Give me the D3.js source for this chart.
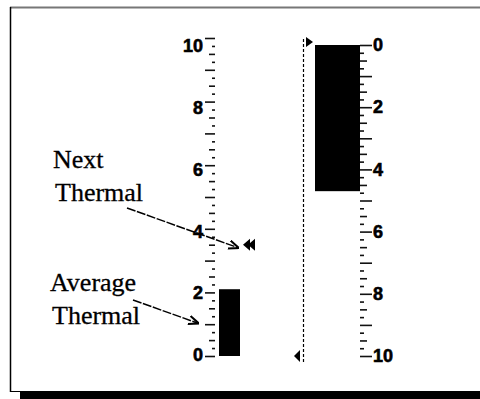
<!DOCTYPE html>
<html>
<head>
<meta charset="utf-8">
<script src="https://cdn.jsdelivr.net/npm/d3@7"></script>
<style>
  body { margin: 0; background: #fff; }
  svg { display: block; }
  .tick line { stroke: #111; stroke-width: 1.6; }
  .lab text { font-family: "Liberation Sans", Arial, sans-serif; font-weight: bold; font-size: 18px; fill: #000; stroke: #000; stroke-width: 0.6; }
  .note { font-family: "Liberation Serif", "Times New Roman", serif; font-size: 26px; fill: #000; stroke: #000; stroke-width: 0.3; }
</style>
</head>
<body>
<div id="chart"></div>
<script>
// values
var leftLabels = [0, 2, 4, 6, 8, 10];
var rightLabels = [0, 2, 4, 6, 8, 10];
var averageBar = [0, 2.1];       // left gauge bar (from, to)
var nextThermal = [3.5];         // double marker on left gauge
var averagePointer = [1.0];      // where "Average Thermal" points
var rightBar = [0, 4.7];         // right gauge bar (from, to)
var rightMarkers = [0, 10];      // triangles next to the dotted line
var notes = [
  { lines: ["Next", "Thermal"] },
  { lines: ["Average", "Thermal"] }
];

var w = 480, h = 399;

var svg = d3.select("#chart").append("svg")
  .attr("width", w)
  .attr("height", h);

// frame with shadow
svg.append("rect").attr("x", 20).attr("y", 392).attr("width", 460).attr("height", 7).attr("fill", "#000");
svg.append("line").attr("x1", 10).attr("x2", 480).attr("y1", 7.5).attr("y2", 7.5).attr("stroke", "#777").attr("stroke-width", 2);
svg.append("line").attr("x1", 10.5).attr("x2", 10.5).attr("y1", 7).attr("y2", 392).attr("stroke", "#000").attr("stroke-width", 1.5);
svg.append("line").attr("x1", 10).attr("x2", 480).attr("y1", 391.5).attr("y2", 391.5).attr("stroke", "#000").attr("stroke-width", 1);

// scales
var yL = d3.scaleLinear().domain([0, 10]).range([356, 38]);
var yLlab = d3.scaleLinear().domain([0, 10]).range([355, 46]);
var yR = d3.scaleLinear().domain([0, 10]).range([45, 356]);

var axL = 215, axR = 360;

var whole = d3.range(0, 10.001, 1);
var halves = d3.range(0.5, 10, 1);
var quarters = d3.range(0.25, 10, 0.5);

function tickSet(axisFn, scale, x, values, size) {
  svg.append("g")
    .attr("transform", "translate(" + x + ",0)")
    .call(axisFn(scale).tickValues(values).tickSize(size).tickFormat(""))
    .call(function(g){ g.select(".domain").remove(); });
}

// left gauge ticks
tickSet(d3.axisLeft, yL, axL, whole, 10);
tickSet(d3.axisLeft, yL, axL, halves, 6);
tickSet(d3.axisLeft, yL, axL, quarters, 3);

svg.append("g")
  .attr("class", "lab")
  .attr("transform", "translate(" + axL + ",0)")
  .call(d3.axisLeft(yLlab).tickValues(leftLabels).tickSize(0).tickPadding(12))
  .call(function(g){ g.select(".domain").remove(); g.selectAll("line").remove(); });

// right gauge ticks
tickSet(d3.axisRight, yR, axR, whole, 12);
tickSet(d3.axisRight, yR, axR, halves, 7);
tickSet(d3.axisRight, yR, axR, quarters, 4);

svg.append("g")
  .attr("class", "lab")
  .attr("transform", "translate(" + axR + ",0)")
  .call(d3.axisRight(yR).tickValues(rightLabels).tickSize(0).tickPadding(13))
  .call(function(g){ g.select(".domain").remove(); g.selectAll("line").remove(); });

// bars
svg.append("rect")
  .attr("x", 219).attr("width", 21)
  .attr("y", yL(averageBar[1]))
  .attr("height", yL(averageBar[0]) - yL(averageBar[1]))
  .attr("fill", "#000");

svg.append("rect")
  .attr("x", 315).attr("width", 45)
  .attr("y", yR(rightBar[0]))
  .attr("height", yR(rightBar[1]) - yR(rightBar[0]))
  .attr("fill", "#000");

// dotted line and markers on right gauge
svg.append("line")
  .attr("x1", 303.5).attr("x2", 303.5)
  .attr("y1", yR(0) - 6).attr("y2", yR(10) + 6)
  .attr("stroke", "#000").attr("stroke-width", 1.2)
  .attr("stroke-dasharray", "3,2");

svg.selectAll(".rmark")
  .data(rightMarkers)
  .enter().append("path")
  .attr("fill", "#000")
  .attr("d", function(d, i){
    var y = yR(d);
    if (i === 0) return "M306," + (y - 8) + "L313," + (y - 3) + "L306," + (y + 2) + "Z";
    return "M300," + (y - 6) + "L294," + y + "L300," + (y + 6) + "Z";
  });

// next thermal double marker
svg.selectAll(".nmark")
  .data(nextThermal)
  .enter().append("path")
  .attr("fill", "#000")
  .attr("d", function(d){
    var y = yL(d);
    return "M243," + y + "L250," + (y - 6) + "L250," + (y + 6) + "Z" +
           "M248," + y + "L255," + (y - 6) + "L255," + (y + 6) + "Z";
  });

// annotations
svg.append("defs").append("marker")
  .attr("id", "arr").attr("viewBox", "0 0 10 10")
  .attr("refX", 9).attr("refY", 5)
  .attr("markerWidth", 7).attr("markerHeight", 7)
  .attr("orient", "auto")
  .append("path").attr("d", "M0,1L10,5L0,9").attr("fill", "none").attr("stroke", "#000").attr("stroke-width", 2);

var noteX = [53, 50];
var noteY = [168, 291];
notes.forEach(function(n, i){
  var t = svg.append("text").attr("class", "note");
  n.lines.forEach(function(s, j){
    t.append("tspan").attr("x", noteX[i] + (j === 1 ? 2 : 0)).attr("y", noteY[i] + j * 33).text(s);
  });
});

svg.append("line")
  .attr("x1", 127).attr("y1", 208)
  .attr("x2", 238).attr("y2", yL(nextThermal[0]) + 3)
  .attr("stroke", "#000").attr("stroke-width", 1.5)
  .attr("stroke-dasharray", "9,1.5")
  .attr("marker-end", "url(#arr)");

svg.append("line")
  .attr("x1", 133).attr("y1", 300)
  .attr("x2", 198).attr("y2", yL(averagePointer[0]) - 1)
  .attr("stroke", "#000").attr("stroke-width", 1.5)
  .attr("stroke-dasharray", "9,1.5")
  .attr("marker-end", "url(#arr)");
</script>
</body>
</html>
